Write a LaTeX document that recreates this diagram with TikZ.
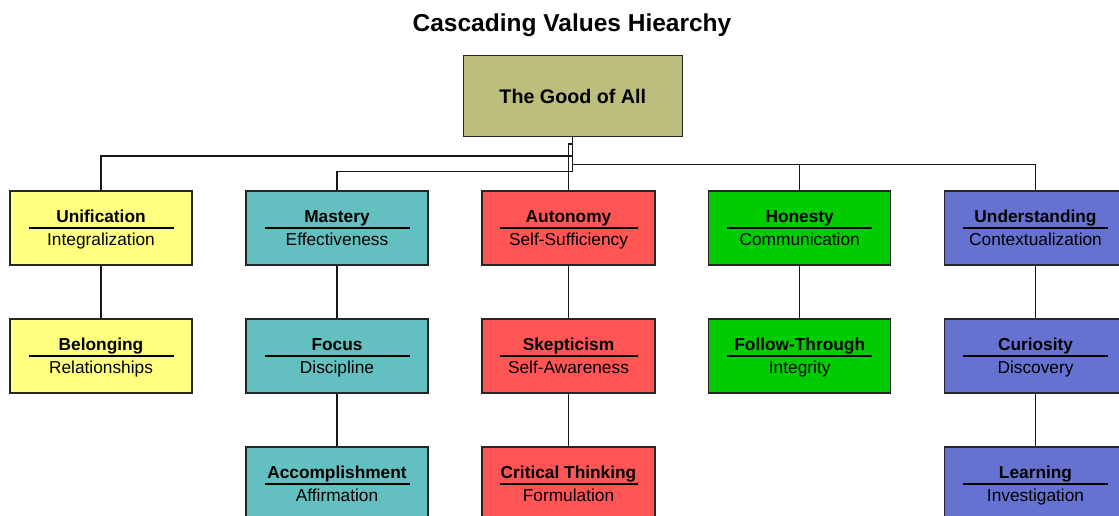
\documentclass[tikz,border=0pt]{standalone}
\usepackage{fontspec}
\setmainfont{Liberation Sans}
\usepackage{xcolor}
\usepackage{tikz}
\usetikzlibrary{shapes, positioning}

\definecolor{goodcol}{RGB}{189,189,125}
\definecolor{unicol}{RGB}{255,255,128}
\definecolor{mastcol}{RGB}{100,192,192}
\definecolor{autocol}{RGB}{255,85,85}
\definecolor{honcol}{RGB}{0,204,0}
\definecolor{undcol}{RGB}{102,114,210}

\tikzset{
	valbox/.style={draw=black!85, line width=1.1pt, rectangle, minimum height=74pt, inner sep=0pt},
	valname/.style={anchor=base, inner sep=0pt, font=\fontsize{17.3}{20}\selectfont\bfseries},
	valsub/.style={anchor=base, inner sep=0pt, font=\fontsize{17.3}{20}\selectfont},
	divider/.style={line width=1.2pt},
	link/.style={line width=1.1pt, black!90}
}

\begin{document}
\begin{tikzpicture}[x=1pt, y=-1pt]
			\useasboundingbox (0,0) rectangle (1119,516);
			
			\node[anchor=base, font=\fontsize{24.5}{28}\selectfont\bfseries] (title) at (572,31.5) {Cascading Values Hiearchy};
			
			\node[valbox, fill=goodcol, minimum width=219pt, minimum height=81pt, font=\fontsize{19.7}{23}\selectfont\bfseries] (good) at (572.8,96) {The Good of All};
			
			% first row
			\node[valbox, fill=unicol, minimum width=182pt] (unif) at (101,228) {};
			\node[valname] (unif-n) at ([yshift=5.5pt]unif.center) {Unification};
			\node[valsub] (unif-s) at ([yshift=-17pt]unif.center) {Integralization};
			\draw[divider] ([xshift=-72.5pt]unif.center) -- ([xshift=72.5pt]unif.center);
			
			\node[valbox, fill=mastcol, minimum width=182pt] (mast) at (337,228) {};
			\node[valname] (mast-n) at ([yshift=5.5pt]mast.center) {Mastery};
			\node[valsub] (mast-s) at ([yshift=-17pt]mast.center) {Effectiveness};
			\draw[divider] ([xshift=-72.5pt]mast.center) -- ([xshift=72.5pt]mast.center);
			
			\node[valbox, fill=autocol, minimum width=173pt] (auto) at (568.5,228) {};
			\node[valname] (auto-n) at ([yshift=5.5pt]auto.center) {Autonomy};
			\node[valsub] (auto-s) at ([yshift=-17pt]auto.center) {Self-Sufficiency};
			\draw[divider] ([xshift=-69pt]auto.center) -- ([xshift=69pt]auto.center);
			
			\node[valbox, fill=honcol, minimum width=182pt] (hon) at (799.7,228) {};
			\node[valname] (hon-n) at ([yshift=5.5pt]hon.center) {Honesty};
			\node[valsub] (hon-s) at ([yshift=-17pt]hon.center) {Communication};
			\draw[divider] ([xshift=-72.5pt]hon.center) -- ([xshift=72.5pt]hon.center);
			
			\node[valbox, fill=undcol, minimum width=182pt] (und) at (1035.5,228) {};
			\node[valname] (und-n) at ([yshift=5.5pt]und.center) {Understanding};
			\node[valsub] (und-s) at ([yshift=-17pt]und.center) {Contextualization};
			\draw[divider] ([xshift=-72.5pt]und.center) -- ([xshift=72.5pt]und.center);
			
			% second row
			\node[valbox, fill=unicol, minimum width=182pt] (belo) at (101,356) {};
			\node[valname] (belo-n) at ([yshift=5.5pt]belo.center) {Belonging};
			\node[valsub] (belo-s) at ([yshift=-17pt]belo.center) {Relationships};
			\draw[divider] ([xshift=-72.5pt]belo.center) -- ([xshift=72.5pt]belo.center);
			
			\node[valbox, fill=mastcol, minimum width=182pt] (focus) at (337,356) {};
			\node[valname] (focus-n) at ([yshift=5.5pt]focus.center) {Focus};
			\node[valsub] (focus-s) at ([yshift=-17pt]focus.center) {Discipline};
			\draw[divider] ([xshift=-72.5pt]focus.center) -- ([xshift=72.5pt]focus.center);
			
			\node[valbox, fill=autocol, minimum width=173pt] (skep) at (568.5,356) {};
			\node[valname] (skep-n) at ([yshift=5.5pt]skep.center) {Skepticism};
			\node[valsub] (skep-s) at ([yshift=-17pt]skep.center) {Self-Awareness};
			\draw[divider] ([xshift=-69pt]skep.center) -- ([xshift=69pt]skep.center);
			
			\node[valbox, fill=honcol, minimum width=182pt] (foll) at (799.7,356) {};
			\node[valname] (foll-n) at ([yshift=5.5pt]foll.center) {Follow-Through};
			\node[valsub] (foll-s) at ([yshift=-17pt]foll.center) {Integrity};
			\draw[divider] ([xshift=-72.5pt]foll.center) -- ([xshift=72.5pt]foll.center);
			
			\node[valbox, fill=undcol, minimum width=182pt] (curi) at (1035.5,356) {};
			\node[valname] (curi-n) at ([yshift=5.5pt]curi.center) {Curiosity};
			\node[valsub] (curi-s) at ([yshift=-17pt]curi.center) {Discovery};
			\draw[divider] ([xshift=-72.5pt]curi.center) -- ([xshift=72.5pt]curi.center);
			
			% third row
			\node[valbox, fill=mastcol, minimum width=182pt] (accom) at (337,484) {};
			\node[valname] (accom-n) at ([yshift=5.5pt]accom.center) {Accomplishment};
			\node[valsub] (accom-s) at ([yshift=-17pt]accom.center) {Affirmation};
			\draw[divider] ([xshift=-72.5pt]accom.center) -- ([xshift=72.5pt]accom.center);
			
			\node[valbox, fill=autocol, minimum width=173pt] (crit) at (568.5,484) {};
			\node[valname] (crit-n) at ([yshift=5.5pt]crit.center) {Critical Thinking};
			\node[valsub] (crit-s) at ([yshift=-17pt]crit.center) {Formulation};
			\draw[divider] ([xshift=-69pt]crit.center) -- ([xshift=69pt]crit.center);
			
			\node[valbox, fill=undcol, minimum width=182pt] (lear) at (1035.5,484) {};
			\node[valname] (lear-n) at ([yshift=5.5pt]lear.center) {Learning};
			\node[valsub] (lear-s) at ([yshift=-17pt]lear.center) {Investigation};
			\draw[divider] ([xshift=-72.5pt]lear.center) -- ([xshift=72.5pt]lear.center);
			
			% links from the top
			\draw[link] (good.south) -- ([yshift=-34pt]good.south) -| (mast.north);
			\draw[link] ([yshift=-19pt]good.south) -| (unif.north);
			\draw[link] ([yshift=-7pt]good.south) -| (auto.north);
			\draw[link] ([yshift=-27pt]good.south) -| (hon.north);
			\draw[link] ([yshift=-27pt]good.south) -| (und.north);
			
			% links down the columns
			\draw[link] (unif) -- (belo);
			\draw[link] (mast) -- (focus);
			\draw[link] (focus) -- (accom);
			\draw[link] (auto) -- (skep);
			\draw[link] (skep) -- (crit);
			\draw[link] (hon) -- (foll);
			\draw[link] (und) -- (curi);
			\draw[link] (curi) -- (lear);
		\end{tikzpicture}
\end{document}
